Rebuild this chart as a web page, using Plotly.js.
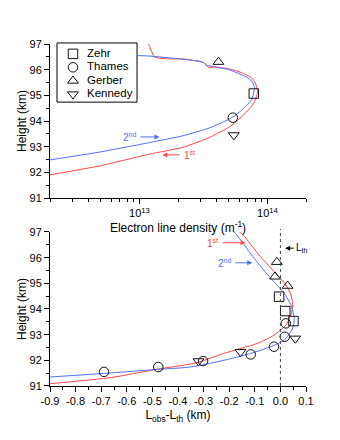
<!DOCTYPE html>
<html>
<head>
<meta charset="utf-8">
<script src="https://cdn.plot.ly/plotly-3.0.1.min.js"></script>
<style>html,body{margin:0;padding:0;background:#fff;}#chart{width:340px;height:440px;}</style>
</head>
<body>
<div id="chart"></div>
<script>
// ---- Top panel: electron line density profiles ----
var topRedDensity = [1.98e12, 4.88e12, 1.20e13, 2.17e13, 3.52e13, 5.05e13, 6.38e13, 7.64e13, 8.20e13, 8.36e13, 8.05e13, 7.50e13, 6.38e13, 5.05e13, 4.00e13, 3.40e13, 3.22e13, 3.10e13, 2.17e13, 1.71e13, 1.43e13, 1.31e13, 1.14e13];
var topRedHeight  = [91.90, 92.25, 92.71, 92.97, 93.36, 93.77, 94.20, 94.62, 94.94, 95.13, 95.48, 95.68, 95.87, 96.03, 96.10, 96.10, 96.26, 96.30, 96.42, 96.42, 96.45, 96.49, 97.20];
var topBlueDensity = [1.98e12, 4.88e12, 1.20e13, 2.17e13, 3.52e13, 5.05e13, 6.04e13, 7.50e13, 7.91e13, 7.64e13, 6.86e13, 5.05e13, 3.34e13, 3.10e13, 1.20e13, 9.48e12];
var topBlueHeight  = [92.48, 92.79, 93.16, 93.42, 93.73, 94.08, 94.35, 94.82, 95.29, 95.52, 95.71, 95.99, 96.18, 96.30, 96.53, 96.55];

var obsNames   = ['Zehr', 'Thames', 'Gerber', 'Kennedy'];
var obsSymbols = ['square-open', 'circle-open', 'triangle-up-open', 'triangle-down-open'];
var obsDensity = [7.82e13, 5.36e13, 4.14e13, 5.46e13];
var obsHeight  = [95.07, 94.13, 96.30, 93.45];

// ---- Bottom panel: L_obs - L_th ----
var botRedX = [-0.90, -0.66, -0.49, -0.33, -0.221, -0.090, -0.025, 0.021, 0.041, 0.048, 0.041, 0.021, -0.025, -0.084, -0.136, -0.169];
var botRedH = [91.09, 91.33, 91.64, 91.90, 92.27, 92.66, 92.98, 93.37, 93.77, 94.16, 94.55, 94.94, 95.46, 96.11, 96.77, 97.09];
var botBlueX = [-0.90, -0.66, -0.49, -0.352, -0.221, -0.116, -0.038, 0.015, 0.048, 0.054, 0.041, 0.015, -0.038, -0.103, -0.156, -0.188];
var botBlueH = [91.35, 91.51, 91.64, 91.74, 92.00, 92.27, 92.53, 92.79, 93.25, 93.64, 94.16, 94.61, 95.20, 95.98, 96.70, 97.09];

var zehrX = [-0.005, 0.019, 0.051];      var zehrH = [94.48, 93.92, 93.53];
var thamesX = [0.021, 0.017, -0.025, -0.116, -0.302, -0.477, -0.689];
var thamesH = [93.44, 92.92, 92.53, 92.23, 91.97, 91.74, 91.55];
var gerberX = [-0.014, -0.021, 0.028];   var gerberH = [95.83, 95.26, 94.90];
var kennedyX = [0.058, -0.156, -0.32];   var kennedyH = [92.85, 92.33, 91.97];

var topTickVals = [1e13, 1e14];
var topTickText = ['10<sup>13</sup>', '10<sup>14</sup>'];
var topMinorVals = [2e12,3e12,4e12,5e12,6e12,7e12,8e12,9e12,2e13,3e13,4e13,5e13,6e13,7e13,8e13,9e13,2e14];
var botTickVals = [-0.9,-0.8,-0.7,-0.6,-0.5,-0.4,-0.3,-0.2,-0.1,0.0,0.1];
var botTickText = ['-0.9','-0.8','-0.7','-0.6','-0.5','-0.4','-0.3','-0.2','-0.1','0.0','0.1'];

var RED = 'rgb(255,70,70)';
var BLUE = 'rgb(80,110,255)';
var MK = '#111';
var FONT = 'Liberation Sans, Arial, sans-serif';

var traces = [];
traces.push({x: topRedDensity, y: topRedHeight, xaxis:'x', yaxis:'y', mode:'lines', line:{color:RED, width:1, shape:'spline', smoothing:0.5}, showlegend:false, hoverinfo:'skip'});
traces.push({x: topBlueDensity, y: topBlueHeight, xaxis:'x', yaxis:'y', mode:'lines', line:{color:BLUE, width:1, shape:'spline', smoothing:0.5}, showlegend:false, hoverinfo:'skip'});
for (var i = 0; i < obsNames.length; i++) {
  traces.push({x:[obsDensity[i]], y:[obsHeight[i]], xaxis:'x', yaxis:'y', mode:'markers', name: obsNames[i],
    showlegend:false, marker:{symbol: obsSymbols[i], size:9.5, color:MK, line:{width:1, color:MK}}});
}
traces.push({x: botRedX, y: botRedH, xaxis:'x2', yaxis:'y2', mode:'lines', line:{color:RED, width:1, shape:'spline', smoothing:0.6}, showlegend:false});
traces.push({x: botBlueX, y: botBlueH, xaxis:'x2', yaxis:'y2', mode:'lines', line:{color:BLUE, width:1, shape:'spline', smoothing:0.6}, showlegend:false});
var botSets = [[zehrX, zehrH], [thamesX, thamesH], [gerberX, gerberH], [kennedyX, kennedyH]];
for (var j = 0; j < botSets.length; j++) {
  traces.push({x: botSets[j][0], y: botSets[j][1], xaxis:'x2', yaxis:'y2', mode:'markers', name: obsNames[j],
    showlegend:false, marker:{symbol: obsSymbols[j], size:9.5, color:MK, line:{width:1, color:MK}}});
}
// compact legend drawn on its own small hidden axis (one row per observer)
var legRows = obsNames.map(function(_, k){ return k; });
traces.push({x: legRows.map(function(){return 16;}), y: legRows, xaxis:'x3', yaxis:'y3', mode:'markers', showlegend:false,
  marker:{symbol: obsSymbols, size:9.5, color:MK, line:{width:1, color:MK}}, cliponaxis:false});
traces.push({x: legRows.map(function(){return 30;}), y: legRows, xaxis:'x3', yaxis:'y3', mode:'text', text: obsNames,
  textposition:'middle right', textfont:{family:FONT, size:11.5, color:'#000'}, showlegend:false, cliponaxis:false});

var axisBase = {showline:true, linecolor:'#000', linewidth:1, ticks:'outside', ticklen:5, tickcolor:'#000',
  showgrid:false, zeroline:false, tickfont:{family:FONT, size:11, color:'#000'}};
function ax(extra){ var o = {}; for (var k in axisBase) o[k] = axisBase[k]; for (var k2 in extra) o[k2] = extra[k2]; return o; }

var legX0 = 0.0273, legX1 = 0.340, legY0 = 0.830, legY1 = 1.003;

var layout = {
  width:340, height:440,
  margin:{l:50, r:34, t:44, b:54},
  paper_bgcolor:'#fff', plot_bgcolor:'rgba(0,0,0,0)',
  font:{family:FONT, color:'#000'},
  showlegend:false,
  xaxis: ax({type:'log', anchor:'y', domain:[0,1], range:[Math.log10(2e12), Math.log10(2e14)],
    tickmode:'array', tickvals: topTickVals, ticktext: topTickText,
    minor:{tickmode:'array', tickvals: topMinorVals, ticks:'outside', ticklen:3, tickcolor:'#000'},
    title:{text:'Electron line density (m<sup>-1</sup>)', font:{family:FONT, size:12, color:'#000'}, standoff:0}}),
  yaxis: ax({anchor:'x', domain:[0.5497,1], range:[91,97], dtick:1, tick0:91,
    minor:{dtick:0.5, ticks:'outside', ticklen:3, tickcolor:'#000'},
    title:{text:'Height (km)', font:{family:FONT, size:12, color:'#000'}, standoff:0}}),
  xaxis2: ax({anchor:'y2', domain:[0,1], range:[-0.9,0.1], tickmode:'array', tickvals: botTickVals, ticktext: botTickText,
    minor:{dtick:0.05, tick0:0, ticks:'outside', ticklen:3, tickcolor:'#000'},
    title:{text:'L<sub>obs</sub>-L<sub>th</sub> (km)', font:{family:FONT, size:12, color:'#000'}, standoff:4}}),
  yaxis2: ax({anchor:'x2', domain:[0,0.4503], range:[91,97], dtick:1, tick0:91,
    minor:{dtick:0.5, ticks:'outside', ticklen:3, tickcolor:'#000'},
    title:{text:'Height (km)', font:{family:FONT, size:12, color:'#000'}, standoff:0}}),
  xaxis3: {domain:[legX0, legX1], anchor:'y3', range:[0, 80], visible:false, fixedrange:true},
  yaxis3: {domain:[legY0, legY1], anchor:'x3', range:[3.585, -0.732], visible:false, fixedrange:true},
  shapes:[
    {type:'line', xref:'x2', yref:'y2 domain', x0:0, x1:0, y0:0, y1:1.02, line:{color:'#444', width:1, dash:'dot'}},
    {type:'rect', xref:'paper', yref:'paper', x0:legX0, x1:legX1, y0:legY0, y1:legY1, layer:'below',
      fillcolor:'#fff', line:{color:'#000', width:1}}
  ],
  annotations:[
    {xref:'x', yref:'y', x:Math.log10(1.43e13), y:93.38, ax:-30, ay:0, text:'2<sup>nd</sup>', showarrow:true,
      arrowhead:2, arrowsize:1, arrowwidth:1, arrowcolor:BLUE, startstandoff:3, font:{family:FONT, size:10, color:BLUE}},
    {xref:'x', yref:'y', x:Math.log10(1.51e13), y:92.68, ax:27, ay:0, text:'1<sup>st</sup>', showarrow:true,
      arrowhead:2, arrowsize:1, arrowwidth:1, arrowcolor:RED, startstandoff:3, font:{family:FONT, size:10, color:RED}},
    {xref:'x2', yref:'y2', x:-0.136, y:96.58, ax:-33, ay:0, text:'1<sup>st</sup>', showarrow:true,
      arrowhead:2, arrowsize:1, arrowwidth:1, arrowcolor:RED, startstandoff:3, font:{family:FONT, size:10, color:RED}},
    {xref:'x2', yref:'y2', x:-0.110, y:95.80, ax:-28, ay:0, text:'2<sup>nd</sup>', showarrow:true,
      arrowhead:2, arrowsize:1, arrowwidth:1, arrowcolor:BLUE, startstandoff:3, font:{family:FONT, size:10, color:BLUE}},
    {xref:'x2', yref:'y2', x:0.0185, y:96.37, ax:17, ay:0, text:'L<sub>th</sub>', showarrow:true,
      arrowhead:2, arrowsize:1, arrowwidth:1, arrowcolor:'#000', startstandoff:1, font:{family:FONT, size:10, color:'#000'}}
  ]
};

Plotly.newPlot('chart', traces, layout, {staticPlot:true, displayModeBar:false});
</script>
</body>
</html>
